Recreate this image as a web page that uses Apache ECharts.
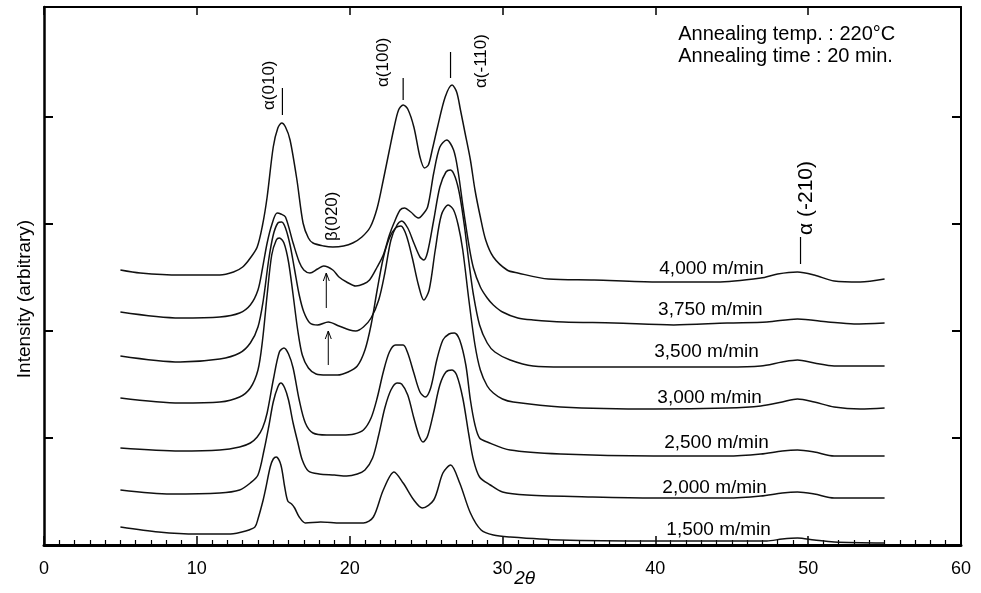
<!DOCTYPE html>
<html>
<head>
<meta charset="utf-8">
<title>WAXD profiles</title>
<script src="https://cdn.jsdelivr.net/npm/echarts@6/dist/echarts.min.js"></script>
<style>
  html, body { margin: 0; padding: 0; background: #fff; }
  #chart { width: 981px; height: 593px; }
</style>
</head>
<body>
<div id="chart"></div>
<script>
// Take-up speeds, top trace first
const speedLabels = ['4,000 m/min', '3,750 m/min', '3,500 m/min', '3,000 m/min',
                     '2,500 m/min', '2,000 m/min', '1,500 m/min'];

// Diffraction profiles: [2θ (deg), intensity (arbitrary, offset stacked)]
const s4000 = [[5.0,275],[6.3,272],[8.9,270],[11.5,270],[12.4,273],[13.0,278],[13.5,287],[13.95,298],[14.3,320],[14.6,348],[15.0,398],[15.3,417],[15.55,422],[15.8,418],[16.1,405],[16.55,365],[16.95,322],[17.3,307],[17.6,302],[18.3,299],[18.9,298],[19.6,299],[20.2,302],[20.8,308],[21.35,318],[21.8,337],[22.2,365],[22.6,395],[22.9,417],[23.2,435],[23.5,440],[23.8,436],[24.2,418],[24.6,388],[24.9,377],[25.15,380],[25.4,395],[25.75,418],[26.25,448],[26.7,460],[27.0,453],[27.25,435],[27.55,412],[27.9,385],[28.2,355],[28.55,328],[28.9,305],[29.4,288],[30.3,275],[31.0,272],[33.0,266],[36.0,265],[40.0,263],[44.0,263],[46.9,267],[48.0,271],[49.3,273],[50.4,270],[51.7,264],[53.4,263],[55.0,266]];
const s3750 = [[5.0,233],[8.9,227],[11.5,228],[12.8,232],[13.5,240],[14.0,255],[14.3,277],[14.6,302],[14.9,320],[15.25,332],[15.5,331],[15.8,328],[16.3,302],[16.7,283],[17.0,275],[17.4,272],[17.9,276],[18.3,279],[18.9,275],[19.3,268],[19.8,263],[20.4,259],[20.9,261],[21.3,265],[21.8,278],[22.2,290],[22.6,310],[22.9,322],[23.3,335],[23.6,337],[24.0,333],[24.5,327],[24.7,329],[25.1,338],[25.5,372],[25.9,398],[26.35,405],[26.8,395],[27.1,373],[27.4,340],[27.8,300],[28.1,277],[28.55,258],[29.0,247],[29.4,240],[30.0,233],[31.0,227],[32.0,225],[34.0,223],[37.3,222],[41.2,220],[44.7,222],[47.3,223],[49.3,226],[51.3,223],[53.0,221],[55.0,222]];
const s3500 = [[5.0,189],[8.9,183],[11.5,186],[12.8,192],[13.5,202],[14.0,218],[14.35,245],[14.7,285],[15.0,310],[15.3,322],[15.55,323],[15.8,317],[16.1,300],[16.4,275],[16.7,250],[17.0,233],[17.4,222],[17.9,220],[18.6,223],[19.3,219],[20.0,215],[20.4,214],[20.9,218],[21.4,227],[21.9,245],[22.3,272],[22.7,305],[23.1,320],[23.4,324],[23.8,317],[24.2,302],[24.6,288],[24.85,285],[25.1,293],[25.5,325],[25.9,358],[26.3,373],[26.6,375],[26.9,368],[27.2,350],[27.5,320],[27.8,283],[28.1,250],[28.5,220],[29.0,202],[29.5,193],[30.5,185],[32.0,179],[34.0,178],[38.2,178],[44.7,178],[46.9,179],[48.3,183],[49.3,185],[50.4,182],[51.7,179],[55.0,179]];
const s3000 = [[5.0,147],[8.9,142],[11.5,143],[12.8,148],[13.5,157],[14.0,175],[14.3,205],[14.6,250],[14.9,290],[15.2,305],[15.4,307],[15.7,302],[16.0,283],[16.3,250],[16.6,215],[16.9,190],[17.3,177],[17.8,171],[18.5,170],[19.2,170],[19.9,173],[20.5,179],[21.0,195],[21.4,220],[21.8,255],[22.2,287],[22.6,307],[23.0,317],[23.35,319],[23.7,310],[24.1,287],[24.5,260],[24.85,245],[25.2,255],[25.6,295],[26.0,330],[26.45,340],[26.8,335],[27.1,320],[27.4,295],[27.8,245],[28.2,200],[28.55,175],[29.0,159],[29.4,152],[30.0,146],[30.7,143],[33.8,138],[39.9,136],[44.7,137],[46.9,139],[48.3,143],[49.3,146],[50.4,143],[51.7,138],[53.4,136],[55.0,137]];
const s2500 = [[5.0,97],[8.9,94],[11.5,95],[12.8,98],[13.5,102],[13.95,108],[14.3,117],[14.6,132],[15.0,165],[15.4,193],[15.7,197],[16.0,191],[16.3,177],[16.7,145],[17.1,122],[17.6,112],[18.5,110],[19.5,110],[20.3,111],[20.9,115],[21.4,127],[21.8,147],[22.2,173],[22.6,193],[23.0,200],[23.5,200],[23.8,192],[24.2,172],[24.6,153],[24.95,148],[25.3,157],[25.7,185],[26.1,205],[26.5,211],[26.85,212],[27.2,205],[27.6,180],[27.9,145],[28.2,120],[28.5,107],[29.0,103],[30.5,95],[33.8,91],[39.9,89],[44.7,89],[46.9,91],[48.3,94],[49.3,95],[50.4,93],[51.7,89],[55.0,89]];
const s2000 = [[5.0,55],[8.3,51],[11.5,52],[12.8,55],[13.5,62],[14.0,70],[14.4,95],[14.7,118],[15.0,143],[15.3,158],[15.5,162],[15.75,157],[16.0,145],[16.3,122],[16.6,103],[16.9,85],[17.3,74],[18.0,71],[19.0,70],[19.8,69],[20.5,71],[21.0,75],[21.5,87],[21.9,110],[22.3,137],[22.7,155],[23.1,162],[23.4,161],[23.8,150],[24.2,127],[24.55,109],[24.8,103],[25.1,109],[25.5,133],[25.9,160],[26.3,173],[26.7,175],[27.0,170],[27.4,147],[27.8,110],[28.1,85],[28.5,68],[29.2,60],[30.0,53],[31.6,50],[35.9,48],[39.9,47],[44.7,47],[46.9,49],[48.3,52],[49.3,53],[50.4,51],[51.7,47],[55.0,47]];
const s1500 = [[5.0,18],[7.5,13],[10.0,11],[12.2,11],[13.2,14],[13.8,18],[14.0,26],[14.34,45],[14.5,56],[14.8,78],[15.0,86],[15.2,88],[15.5,80],[15.75,58],[15.95,44],[16.2,41],[16.4,37],[16.7,28],[17.1,22],[18.1,23],[19.4,22],[20.9,22],[21.55,28],[22.2,55],[22.9,73],[23.5,62],[24.2,45],[24.75,37],[25.5,45],[26.1,72],[26.6,80],[27.2,62],[27.9,32],[28.6,15],[29.4,10],[30.5,8],[33.8,5],[40.0,4],[45.0,4],[47.3,4],[48.3,6],[49.3,7],[50.4,5],[51.7,3],[55.0,2]];

const profiles = [s4000, s3750, s3500, s3000, s2500, s2000, s1500];

// Reflection labels and the note text
const peakNames = ['α(010)', 'α(100)', 'α(-110)', 'β(020)', 'α (-210)'];
const noteLines = ['Annealing temp. : 220°C', 'Annealing time : 20 min.'];
const yTickValues = [107, 214, 321, 428];

// Where annotations sit, in axis coordinates
const peakLabelAt = [[14.73, 435], [22.2, 458], [28.62, 457], [18.86, 304], [49.85, 310]];
const peakLabelSize = [17, 17, 17, 17, 21];
const peakTickAt = [[15.6, 457, 430], [23.5, 467, 445], [26.6, 493, 467], [49.5, 308, 281]];
const arrowAt = [[18.47, 237, 272], [18.6, 180, 214]];
const speedLabelAt = [[43.68, 276], [43.6, 235], [43.35, 193], [43.55, 147], [44.0, 102], [43.88, 57], [44.14, 15]];
const noteAt = [[41.5, 521], [41.5, 499]];
const thetaLabelAt = [31.45, -34];

const FONT = '"Liberation Sans", Arial, Helvetica, sans-serif';

const annos = [];
peakTickAt.forEach(p => annos.push({ kind: 'tick', x: p[0], y: p[1], y2: p[2] }));
peakLabelAt.forEach((p, i) => annos.push({ kind: 'vtext', text: peakNames[i], x: p[0], y: p[1], size: peakLabelSize[i] }));
arrowAt.forEach(p => annos.push({ kind: 'arrow', x: p[0], y: p[1], y2: p[2] }));
speedLabelAt.forEach((p, i) => annos.push({ kind: 'text', text: speedLabels[i], x: p[0], y: p[1], size: 19, align: 'center', va: 'middle' }));
noteAt.forEach((p, i) => annos.push({ kind: 'text', text: noteLines[i], x: p[0], y: p[1], size: 20, align: 'left', va: 'top' }));
annos.push({ kind: 'text', text: '2θ', x: thetaLabelAt[0], y: thetaLabelAt[1], size: 19, align: 'center', va: 'middle', italic: true });

function renderAnno(params, api) {
  const a = annos[params.dataIndex];
  const p = api.coord([a.x, a.y]);
  if (a.kind === 'tick') {
    const q = api.coord([a.x, a.y2]);
    return { type: 'line', shape: { x1: p[0], y1: p[1], x2: q[0], y2: q[1] },
             style: { stroke: '#000', lineWidth: 1.2 } };
  }
  if (a.kind === 'arrow') {
    const q = api.coord([a.x, a.y2]);
    return { type: 'group', children: [
      { type: 'line', shape: { x1: p[0], y1: p[1], x2: q[0], y2: q[1] }, style: { stroke: '#000', lineWidth: 1 } },
      { type: 'polyline', shape: { points: [[q[0] - 3, q[1] + 8], [q[0], q[1]], [q[0] + 3, q[1] + 8]] },
        style: { stroke: '#000', lineWidth: 1, fill: null } }
    ] };
  }
  if (a.kind === 'vtext') {
    return { type: 'text', x: p[0], y: p[1], rotation: Math.PI / 2,
             style: { text: a.text, x: 0, y: 0, fill: '#000', font: a.size + 'px ' + FONT,
                      align: 'left', verticalAlign: 'middle' } };
  }
  return { type: 'text', x: p[0], y: p[1],
           style: { text: a.text, x: 0, y: 0, fill: '#000',
                    font: (a.italic ? 'italic ' : '') + a.size + 'px ' + FONT,
                    align: a.align, verticalAlign: a.va } };
}

const chart = echarts.init(document.getElementById('chart'), null, { renderer: 'canvas' });

const series = profiles.map((d, i) => ({
  name: speedLabels[i],
  type: 'line',
  xAxisIndex: 0,
  yAxisIndex: 0,
  data: d,
  smooth: 0.3,
  showSymbol: false,
  symbol: 'none',
  silent: true,
  lineStyle: { color: '#111', width: 1.5 },
  z: 3
}));
// annotations live on the top/right axes (same ranges as bottom/left)
series.push({
  type: 'custom',
  coordinateSystem: 'cartesian2d',
  xAxisIndex: 1,
  yAxisIndex: 1,
  data: annos.map(a => [a.x, a.y]),
  renderItem: renderAnno,
  clip: false,
  silent: true,
  z: 5
});

chart.setOption({
  animation: false,
  backgroundColor: '#fff',
  grid: { left: 44, right: 20, top: 7, bottom: 48, containLabel: false },
  xAxis: [{
    type: 'value', min: 0, max: 60, interval: 10, position: 'bottom',
    axisLine: { show: true, onZero: false, lineStyle: { color: '#000', width: 3 } },
    axisTick: { show: true, inside: true, length: 9, lineStyle: { color: '#000', width: 1.5 } },
    minorTick: { show: true, splitNumber: 10, length: 5, lineStyle: { color: '#000', width: 1.2 } },
    axisLabel: { color: '#000', fontSize: 18, fontFamily: FONT, margin: 15 },
    splitLine: { show: false }, minorSplitLine: { show: false }
  }, {
    type: 'value', min: 0, max: 60, interval: 10, position: 'top',
    axisLine: { show: true, onZero: false, lineStyle: { color: '#000', width: 2 } },
    axisTick: { show: true, inside: true, length: 8, lineStyle: { color: '#000', width: 1.5 } },
    axisLabel: { show: false }, splitLine: { show: false }
  }],
  yAxis: [{
    type: 'value', min: 0, max: 538, position: 'left',
    name: 'Intensity (arbitrary)', nameLocation: 'middle', nameGap: 10,
    nameTextStyle: { color: '#000', fontSize: 19, fontFamily: FONT, padding: [0, 46, 0, 0] },
    axisLine: { show: true, onZero: false, lineStyle: { color: '#000', width: 2.5 } },
    axisTick: { show: true, inside: true, length: 9, customValues: yTickValues, lineStyle: { color: '#000', width: 2 } },
    axisLabel: { show: false }, splitLine: { show: false }
  }, {
    type: 'value', min: 0, max: 538, position: 'right',
    axisLine: { show: true, onZero: false, lineStyle: { color: '#000', width: 2 } },
    axisTick: { show: true, inside: true, length: 9, customValues: yTickValues, lineStyle: { color: '#000', width: 2 } },
    axisLabel: { show: false }, splitLine: { show: false }
  }],
  series: series
});
</script>
</body>
</html>
